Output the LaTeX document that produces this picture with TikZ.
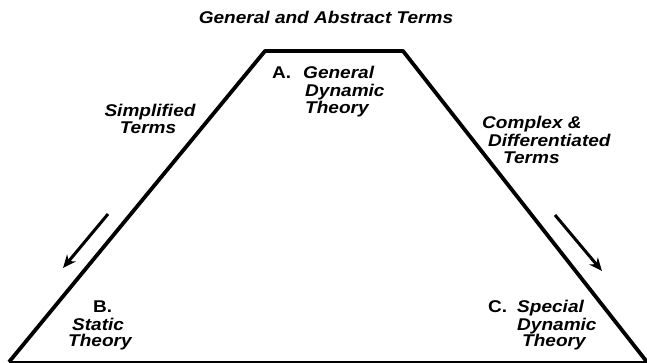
\documentclass[tikz,border=0pt]{standalone}
\usepackage{fontspec}
\newfontfamily\lab{Liberation Sans}[FakeStretch=1.12]
\usetikzlibrary{arrows.meta}
\begin{document}
\begin{tikzpicture}[x=1pt,y=-1pt,
  txt/.style={inner sep=0pt,font=\lab\bfseries\itshape\fontsize{17}{20}\selectfont},
  letter/.style={inner sep=0pt,font=\lab\bfseries\fontsize{17}{20}\selectfont},
  side/.style={line width=3.8pt,line join=round},
  flow/.style={line width=3pt,-{Stealth[length=13pt,width=11pt,inset=4pt]}}]
\useasboundingbox (0,0) rectangle (647,362);
% trapezoid
\coordinate (tl) at (265,51);
\coordinate (tr) at (403,51);
\coordinate (br) at (647,362);
\coordinate (bl) at (9,362);
\draw[side] (bl) -- (tl) -- (tr) -- (br);
\draw[line width=1.6pt] (bl) -- (br);
% arrows
\coordinate (a1s) at (108,214);
\coordinate (a1e) at (63,268);
\coordinate (a2s) at (555,215);
\coordinate (a2e) at (602,271);
\draw[flow] (a1s) -- (a1e);
\draw[flow] (a2s) -- (a2e);
% title
\node[txt,anchor=base] (title) at (326,23) {General and Abstract Terms};
% A
\node[letter,anchor=base west] (Alab) at (272,78) {A.};
\node[txt,anchor=base west] (A1) at (303,78) {General};
\node[txt,anchor=base west] (A2) at (305,96) {Dynamic};
\node[txt,anchor=base west] (A3) at (305,113) {Theory};
% simplified
\node[txt,anchor=base] (S1) at (150,116) {Simplified};
\node[txt,anchor=base] (S2) at (148,133) {Terms};
% complex
\node[txt,anchor=base west] (C1) at (482,128) {Complex \&};
\node[txt,anchor=base west] (C2) at (488,146) {Differentiated};
\node[txt,anchor=base west] (C3) at (503,163) {Terms};
% B
\node[letter,anchor=base west] (Blab) at (93,312) {B.};
\node[txt,anchor=base west] (B1) at (72,330) {Static};
\node[txt,anchor=base west] (B2) at (68,346) {Theory};
% C
\node[letter,anchor=base west] (Clab) at (488,312) {C.};
\node[txt,anchor=base west] (Cc1) at (517,312) {Special};
\node[txt,anchor=base west] (Cc2) at (517,330) {Dynamic};
\node[txt,anchor=base west] (Cc3) at (522,346) {Theory};
\end{tikzpicture}
\end{document}
